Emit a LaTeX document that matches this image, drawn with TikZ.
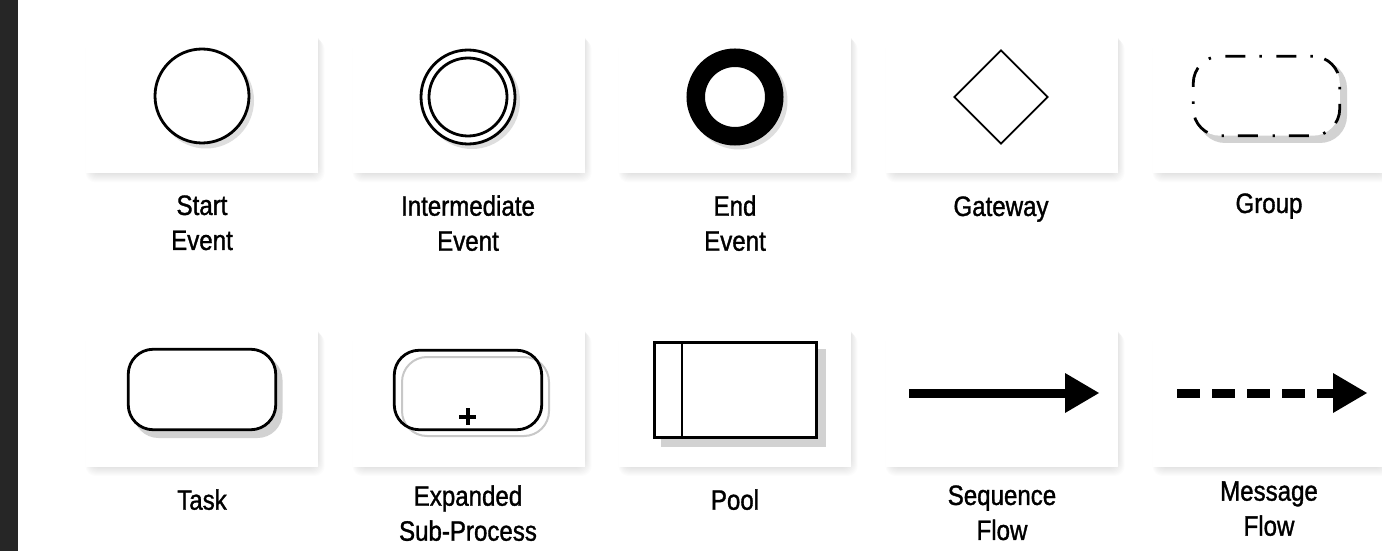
\documentclass[tikz,border=0pt]{standalone}
\usepackage{fontspec}
\setmainfont{Liberation Sans}[FakeStretch=0.86, FakeBold=1.2]
\usetikzlibrary{shapes.geometric}
\definecolor{stripdark}{HTML}{262626}
\definecolor{shapeshadow}{HTML}{D2D2D2}
\definecolor{circshadow}{HTML}{DEDEDE}
\definecolor{subgray}{HTML}{C8C8C8}
\tikzset{
  panel/.style={fill=white, draw=none, rectangle, minimum width=116pt, minimum height=76.5pt, inner sep=0pt},
  lbl/.style={align=center, anchor=north, inner sep=0pt, text=black, font=\fontsize{14}{17.5}\selectfont},
  shp/.style={draw=black, line width=1.4pt, fill=white, inner sep=0pt},
  shd/.style={fill=shapeshadow, draw=none, inner sep=0pt},
  flowline/.style={draw=black, line width=4.5pt},
  flowtip/.style={fill=black, draw=none},
}
\begin{document}
\begin{tikzpicture}[x=0.5pt, y=-0.5pt]
\useasboundingbox (0,0) rectangle (1382,551);
\fill[white] (0,0) rectangle (1382,551);
\fill[stripdark] (0,0) rectangle (18,551);

% panel shadows (soft, mostly below)
\foreach \cx/\cy in {202/96.5, 469/96.5, 735/96.5, 1002/96.5, 1269/96.5,
                     202/390, 469/390, 735/390, 1002/390, 1269/390} {
  \foreach \i in {0,...,9} {
    \fill[black, opacity=0.011, rounded corners=5pt]
      (\cx-112-0.5*\i, \cy-66+\i) rectangle (\cx+115.5+0.8*\i, \cy+77+\i);
  }
}
% panels
\node[panel] (p1) at (202,96.5) {};
\node[panel] (p2) at (469,96.5) {};
\node[panel] (p3) at (735,96.5) {};
\node[panel] (p4) at (1002,96.5) {};
\node[panel] (p5) at (1269,96.5) {};
\node[panel] (p6) at (202,390) {};
\node[panel] (p7) at (469,390) {};
\node[panel] (p8) at (735,390) {};
\node[panel] (p9) at (1002,390) {};
\node[panel] (p10) at (1269,390) {};

% Start event
\node[circle, fill=circshadow, minimum size=48pt, inner sep=0pt] (starts) at (206,100.5) {};
\node[shp, circle, minimum size=47pt] (start) at (202,96) {};

% Intermediate event
\node[circle, fill=circshadow, minimum size=48pt, inner sep=0pt] (inters) at (472,101) {};
\node[shp, circle, minimum size=47pt] (inter) at (468,97) {};
\node[shp, circle, minimum size=39pt] (interin) at (468,97) {};

% End event
\node[circle, fill=circshadow, minimum size=48.5pt, inner sep=0pt] (ends) at (739,101) {};
\node[circle, draw=black, fill=white, line width=9.25pt, minimum size=39.25pt, inner sep=0pt] (end) at (735,97) {};

% Gateway
\node[diamond, draw=black, fill=white, line width=0.85pt, minimum width=47pt, minimum height=47pt, inner sep=0pt] (gw) at (1001,97) {};

% Group
\node[shd, rectangle, rounded corners=13.5pt, minimum width=74.5pt, minimum height=41pt] (grps) at (1272.5,102) {};
\node[shp, rectangle, rounded corners=13.5pt, minimum width=73.25pt, minimum height=39.75pt,
      dash pattern=on 1.2pt off 7pt on 10pt off 7.3pt] (grp) at (1266.5,96) {};

% Task
\node[shd, rectangle, rounded corners=12.5pt, minimum width=74.5pt, minimum height=41.5pt] (tasks) at (208,396.5) {};
\node[shp, rectangle, rounded corners=12.5pt, minimum width=73.75pt, minimum height=40.25pt] (task) at (202,389.5) {};

% Expanded sub-process
\node[draw=subgray, line width=1pt, rectangle, rounded corners=12.5pt, minimum width=73.5pt, minimum height=39.5pt, inner sep=0pt] (subg) at (475.5,396.5) {};
\node[draw=black, line width=1.4pt, rectangle, rounded corners=12.5pt, minimum width=73.75pt, minimum height=39.75pt, inner sep=0pt] (sub) at (468,390) {};
\draw[line width=2pt] (459,416.5) -- (476,416.5);
\draw[line width=2pt] (467.5,408) -- (467.5,425);

% Pool
\node[shd, rectangle, minimum width=82.5pt, minimum height=49pt] (pools) at (743.5,398) {};
\node[shp, rectangle, minimum width=81.25pt, minimum height=47.75pt] (pool) at (735.5,390) {};
\draw[line width=1.4pt] (682,341.6) -- (682,438.4);

% Sequence flow
\coordinate (sfs) at (909,393);
\coordinate (sfb) at (1066,393);
\coordinate (sfe) at (1099,393);
\draw[flowline] (sfs) -- (sfb);
\fill[flowtip] (1065,373) -- (sfe) -- (1065,413) -- cycle;

% Message flow
\coordinate (mfs) at (1177,393);
\coordinate (mfb) at (1339,393);
\coordinate (mfe) at (1367,393);
\draw[flowline, dash pattern=on 11.35pt off 6.15pt] (mfs) -- (mfb);
\fill[flowtip] (1333,373) -- (mfe) -- (1333,413) -- cycle;

% Labels
\node[lbl] (l1) at (202,195) {Start\\Event};
\node[lbl] (l2) at (468,195) {Intermediate\\Event};
\node[lbl] (l3) at (735,195) {End\\Event};
\node[lbl] (l4) at (1001,196) {Gateway};
\node[lbl] (l5) at (1269,193) {Group};
\node[lbl] (l6) at (202,489) {Task};
\node[lbl] (l7) at (468,485) {Expanded\\Sub-Process};
\node[lbl] (l8) at (735,489) {Pool};
\node[lbl] (l9) at (1002,485) {Sequence\\Flow};
\node[lbl] (l10) at (1269,481) {Message\\Flow};
\end{tikzpicture}
\end{document}
